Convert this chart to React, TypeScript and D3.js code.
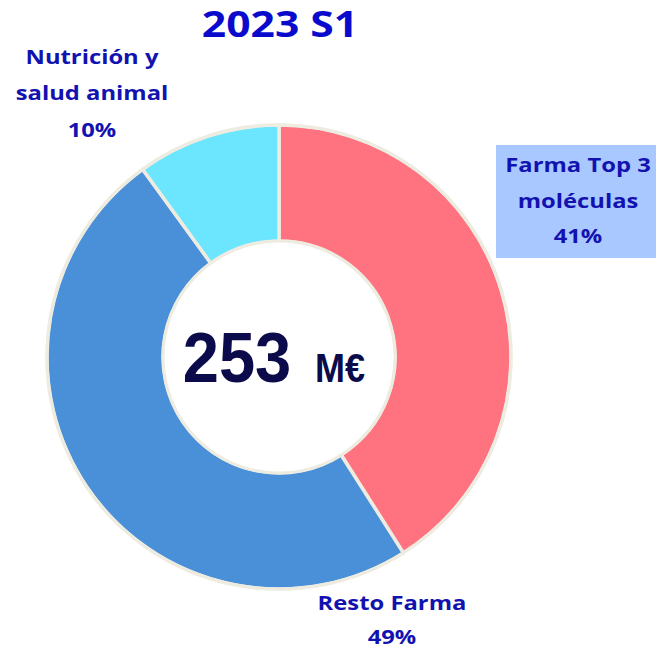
import React from "react";
import * as d3 from "d3";

const categories = ["Farma Top 3 moléculas", "Resto Farma", "Nutrición y salud animal"];
const values = [41, 49, 10];
const colors = ["#FF7380", "#4A90D9", "#6CE5FF"];
const title = "2023 S1";
const total = "253";
const unit = "M€";

const W = 656, H = 648;
const cx = 279, cy = 357;
const outerR = 232, innerR = 116;
const labelFont = "'Open Sans', Lato, sans-serif";
const labelColor = "#1212B0";

function T({ x, y, sx, children, ...rest }: any) {
  return (
    <text transform={`translate(${x},${y}) scale(${sx},1)`} textAnchor="middle" {...rest}>
      {children}
    </text>
  );
}

export default function App() {
  const pie = d3.pie<number>().sort(null).value((d) => d)(values);
  const arc = d3.arc<d3.PieArcDatum<number>>().innerRadius(innerR).outerRadius(outerR);
  const lab = { fontFamily: labelFont, fontWeight: 700, fontSize: 19.5, fill: labelColor };
  const sxl = 1.22;
  return (
    <svg width={W} height={H} style={{ position: "absolute", left: 0, top: 0 }}>
      <rect width={W} height={H} fill="#fff" />
      <T x={280} y={37} sx={1.2} fontFamily={labelFont} fontWeight={700} fontSize={35.5} fill="#0A0ACD">{title}</T>
      <g transform={`translate(${cx},${cy})`}>
        {pie.map((p, i) => (
          <path key={i} d={arc(p) || ""} fill={colors[i]} stroke="#EEECE1" strokeWidth={3.5} />
        ))}
        <circle r={outerR} fill="none" stroke="#EEECE1" strokeWidth={3} />
        <circle r={innerR} fill="#fff" stroke="#EEECE1" strokeWidth={3} />
        <T x={-42} y={25} sx={0.93} fontFamily="'Liberation Sans', Arial, sans-serif" fontWeight={700} fontSize={70} fill="#0B0B4B">{total}</T>
        <T x={61} y={25} sx={0.9} fontFamily="'Liberation Sans', Arial, sans-serif" fontWeight={700} fontSize={40} fill="#0B0B4B">{unit}</T>
      </g>
      <T x={92} y={64} sx={sxl} {...lab}>Nutrición y</T>
      <T x={92} y={100} sx={sxl} {...lab}>salud animal</T>
      <T x={92} y={137} sx={sxl} {...lab}>{values[2]}%</T>
      <rect x={496} y={145} width={160} height={113} fill="#A8C8FF" />
      <T x={578} y={172} sx={sxl} {...lab}>Farma Top 3</T>
      <T x={578} y={208} sx={sxl} {...lab}>moléculas</T>
      <T x={578} y={243} sx={sxl} {...lab}>{values[0]}%</T>
      <T x={392} y={610} sx={sxl} {...lab}>Resto Farma</T>
      <T x={392} y={644} sx={sxl} {...lab}>{values[1]}%</T>
    </svg>
  );
}
